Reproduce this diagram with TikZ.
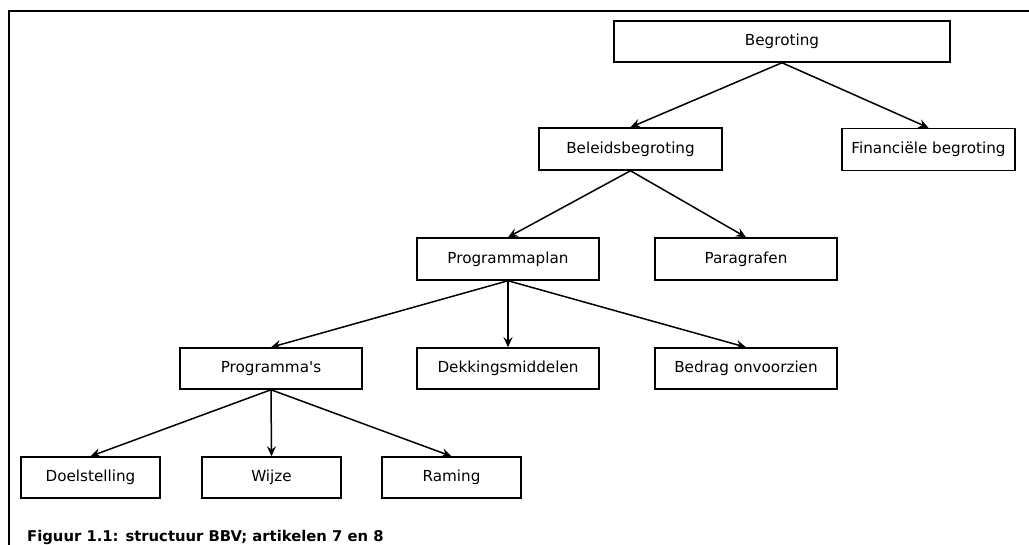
\documentclass[tikz,border=0pt]{standalone}
\usepackage{fontspec}
\setmainfont{DejaVu Sans}
\usetikzlibrary{arrows.meta}
\begin{document}
\begin{tikzpicture}[x=1pt,y=-1pt,
  box/.style={draw,line width=1.5pt,minimum height=41pt,inner sep=0pt,font=\fontsize{15.2}{17}\selectfont},
  wide/.style={box,minimum width=182pt},
  narrow/.style={box,minimum width=139pt},
  arr/.style={line width=1.5pt,-{Stealth[length=10pt,width=9pt,inset=3.5pt]}},
  frame/.style={line width=2.2pt}]
\useasboundingbox (0,0) rectangle (1029,544);
\fill[white] (0,0) rectangle (1029,544);
\coordinate (ftop) at (1030,11);
\coordinate (fcorner) at (9,11);
\coordinate (fbot) at (9,545);
\draw[frame] (ftop) -- (fcorner) -- (fbot);
\node[box,minimum width=336pt] (begroting) at (782,41.5) {Begroting};
\node[box,minimum width=183pt,minimum height=42pt] (beleid) at (630.5,149) {Beleidsbegroting};
\node[box,minimum width=173pt,minimum height=42pt] (fin) at (928.5,149.5) {Financiële begroting};
\node[wide,minimum height=42pt] (pplan) at (508,259) {Programmaplan};
\node[wide,minimum height=42pt] (para) at (746,259) {Paragrafen};
\node[wide] (progs) at (271,368.5) {Programma\textquotesingle s};
\node[wide] (dek) at (508,368.5) {Dekkingsmiddelen};
\node[wide] (bedrag) at (746,368.5) {Bedrag onvoorzien};
\node[narrow] (doel) at (90.5,477.5) {Doelstelling};
\node[narrow] (wijze) at (271.5,477.5) {Wijze};
\node[narrow] (raming) at (451.5,477.5) {Raming};
\draw[arr] (begroting.south) -- (beleid.north);
\draw[arr] (begroting.south) -- (fin.north);
\draw[arr] (beleid.south) -- (pplan.north);
\draw[arr] (beleid.south) -- (para.north);
\draw[arr] (pplan.south) -- (progs.north);
\draw[arr] (pplan.south) -- (dek.north);
\draw[arr] (pplan.south) -- (bedrag.north);
\draw[arr] (progs.south) -- (doel.north);
\draw[arr] (progs.south) -- (wijze.north);
\draw[arr] (progs.south) -- (raming.north);
\node[anchor=base west,inner sep=0pt,font=\bfseries\fontsize{14.8}{17}\selectfont] (caption) at (27,541) {Figuur 1.1: structuur BBV; artikelen 7 en 8};
\end{tikzpicture}
\end{document}
